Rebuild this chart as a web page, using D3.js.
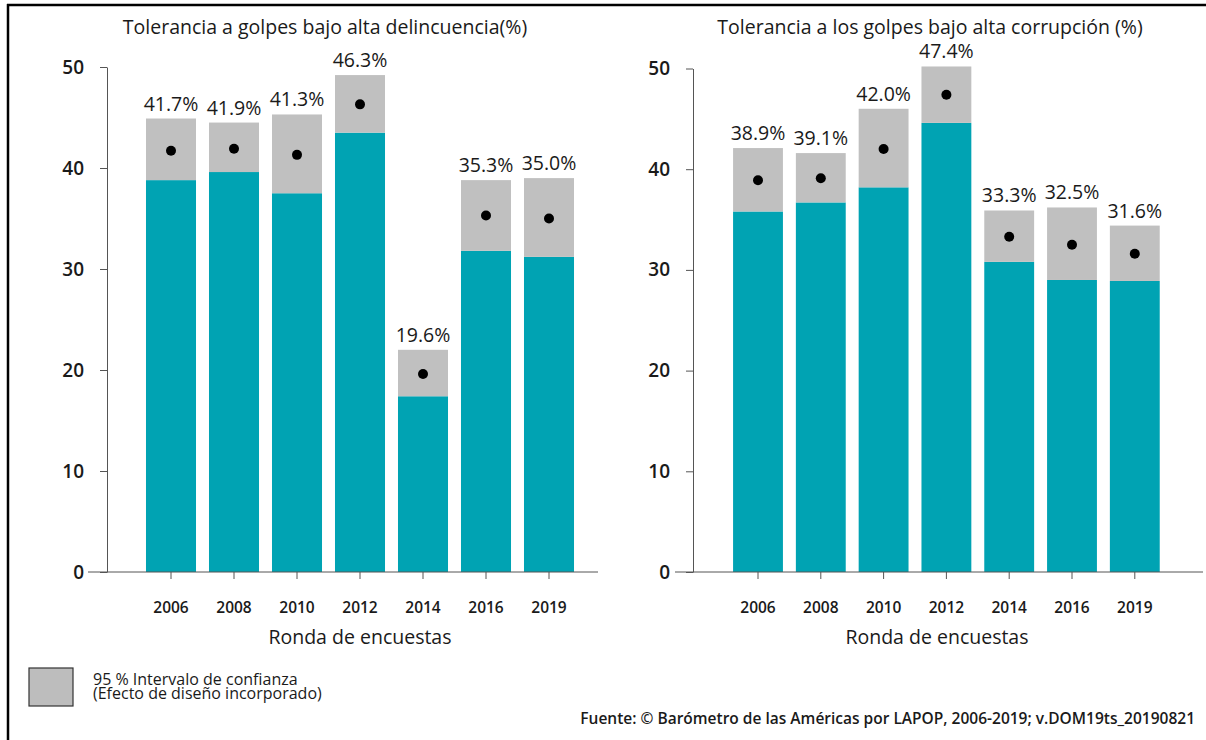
<!DOCTYPE html>
<html>
<head>
<meta charset="utf-8">
<script src="https://cdn.jsdelivr.net/npm/d3@7/dist/d3.min.js"></script>
<style>
  html, body { margin: 0; padding: 0; background: #fff; }
  svg { display: block; font-family: "Open Sans", "Noto Sans", sans-serif; }
</style>
</head>
<body>
<svg id="chart" width="1206" height="740"></svg>
<script>
// ---- Data ----
const years = ["2006", "2008", "2010", "2012", "2014", "2016", "2019"];
const yTicks = [0, 10, 20, 30, 40, 50];

const crimeEst  = [41.7, 41.9, 41.3, 46.3, 19.6, 35.3, 35.0];
const crimeLow  = [38.8, 39.6, 37.5, 43.5, 17.4, 31.8, 31.2];
const crimeHigh = [44.9, 44.5, 45.3, 49.2, 22.0, 38.8, 39.0];

const corrEst  = [38.9, 39.1, 42.0, 47.4, 33.3, 32.5, 31.6];
const corrLow  = [35.8, 36.7, 38.2, 44.6, 30.8, 29.0, 28.9];
const corrHigh = [42.1, 41.6, 46.0, 50.2, 35.9, 36.2, 34.4];

const titleCrime = "Tolerancia a golpes bajo alta delincuencia(%)";
const titleCorr  = "Tolerancia a los golpes bajo alta corrupción (%)";
const xAxisTitle = "Ronda de encuestas";
const legendLines = ["95 % Intervalo de confianza", "(Efecto de diseño incorporado)"];
const sourceText = "Fuente: © Barómetro de las Américas por LAPOP, 2006-2019; v.DOM19ts_20190821";

// ---- Style ----
const TEAL = "#00a3b3";
const GRAY = "#c0c0c0";
const TEXT = "#1a1a1a";
const AXIS = "#555";
const FONT = "Open Sans, Noto Sans, sans-serif";

const svg = d3.select("#chart");

// frame lines (top and left)
svg.append("line").attr("x1", 7).attr("x2", 1206).attr("y1", 5).attr("y2", 5)
  .attr("stroke", "#000").attr("stroke-width", 2.5);
svg.append("line").attr("x1", 8).attr("x2", 8).attr("y1", 4).attr("y2", 740)
  .attr("stroke", "#000").attr("stroke-width", 2.5);

const panels = [
  { title: titleCrime, titleX: 325, est: crimeEst, low: crimeLow, high: crimeHigh,
    axisX: 107, yTop: 67, xRange: [139.5, 580.5], lineX: [88, 598], xTitleX: 360 },
  { title: titleCorr, titleX: 930, est: corrEst, low: corrLow, high: corrHigh,
    axisX: 693, yTop: 68.5, xRange: [726.6, 1166.2], lineX: [675, 1203], xTitleX: 937 }
];

const yBase = 572;

panels.forEach(p => {
  const g = svg.append("g");
  const y = d3.scaleLinear().domain([0, 50]).range([yBase, p.yTop]);
  const x = d3.scaleBand().domain(years).range(p.xRange)
    .paddingInner(0.206).paddingOuter(0.103);

  const rows = years.map((yr, i) => ({ yr, est: p.est[i], low: p.low[i], high: p.high[i] }));

  // title
  g.append("text").attr("x", p.titleX).attr("y", 34)
    .attr("text-anchor", "middle").attr("font-size", 19.5).attr("font-weight", 500)
    .attr("fill", TEXT).text(p.title);

  // teal bars (0 -> lower bound)
  g.selectAll(".bar").data(rows).join("rect")
    .attr("x", d => x(d.yr)).attr("width", x.bandwidth())
    .attr("y", d => y(d.low)).attr("height", d => y(0) - y(d.low))
    .attr("fill", TEAL);

  // gray CI (lower -> upper)
  g.selectAll(".ci").data(rows).join("rect")
    .attr("x", d => x(d.yr)).attr("width", x.bandwidth())
    .attr("y", d => y(d.high)).attr("height", d => y(d.low) - y(d.high))
    .attr("fill", GRAY);

  // estimate dots
  g.selectAll(".dot").data(rows).join("circle")
    .attr("cx", d => x(d.yr) + x.bandwidth() / 2).attr("cy", d => y(d.est))
    .attr("r", 5).attr("fill", "#000");

  // value labels
  g.selectAll(".val").data(rows).join("text")
    .attr("x", d => x(d.yr) + x.bandwidth() / 2).attr("y", d => y(d.high) - 8)
    .attr("text-anchor", "middle").attr("font-size", 19.5).attr("fill", TEXT)
    .text(d => d.est.toFixed(1) + "%");

  // y axis
  const yAxis = g.append("g").attr("transform", `translate(${p.axisX},0)`)
    .call(d3.axisLeft(y).tickValues(yTicks).tickSize(7).tickSizeOuter(0).tickPadding(16));
  yAxis.select(".domain").attr("stroke", AXIS);
  yAxis.selectAll(".tick line").attr("stroke", AXIS);
  yAxis.selectAll(".tick text").attr("font-size", 19).attr("font-weight", 600)
    .attr("fill", TEXT).attr("font-family", FONT);

  // x axis
  const xAxis = g.append("g").attr("transform", `translate(0,${yBase})`)
    .call(d3.axisBottom(x).tickSize(7).tickSizeOuter(0).tickPadding(23));
  xAxis.select(".domain").remove();
  xAxis.selectAll(".tick line").attr("stroke", AXIS);
  xAxis.selectAll(".tick text").attr("font-size", 15.5).attr("font-weight", 600)
    .attr("fill", TEXT).attr("font-family", FONT);
  g.append("line").attr("x1", p.lineX[0]).attr("x2", p.lineX[1])
    .attr("y1", yBase).attr("y2", yBase).attr("stroke", AXIS).attr("stroke-width", 1);

  // x axis title
  g.append("text").attr("x", p.xTitleX).attr("y", 644)
    .attr("text-anchor", "middle").attr("font-size", 19.5).attr("font-weight", 500)
    .attr("fill", TEXT).text(xAxisTitle);
});

// legend
svg.append("rect").attr("x", 29).attr("y", 668).attr("width", 44).attr("height", 38)
  .attr("fill", "#bdbdbd").attr("stroke", "#333").attr("stroke-width", 1.2);
svg.append("text").attr("font-size", 16).attr("fill", TEXT)
  .selectAll("tspan").data(legendLines).join("tspan")
  .attr("x", 93).attr("y", (d, i) => 684.5 + i * 14).text(d => d);

// source
svg.append("text").attr("x", 1195).attr("y", 724).attr("text-anchor", "end")
  .attr("font-size", 15.5).attr("font-weight", 600).attr("fill", TEXT).text(sourceText);
</script>
</body>
</html>
